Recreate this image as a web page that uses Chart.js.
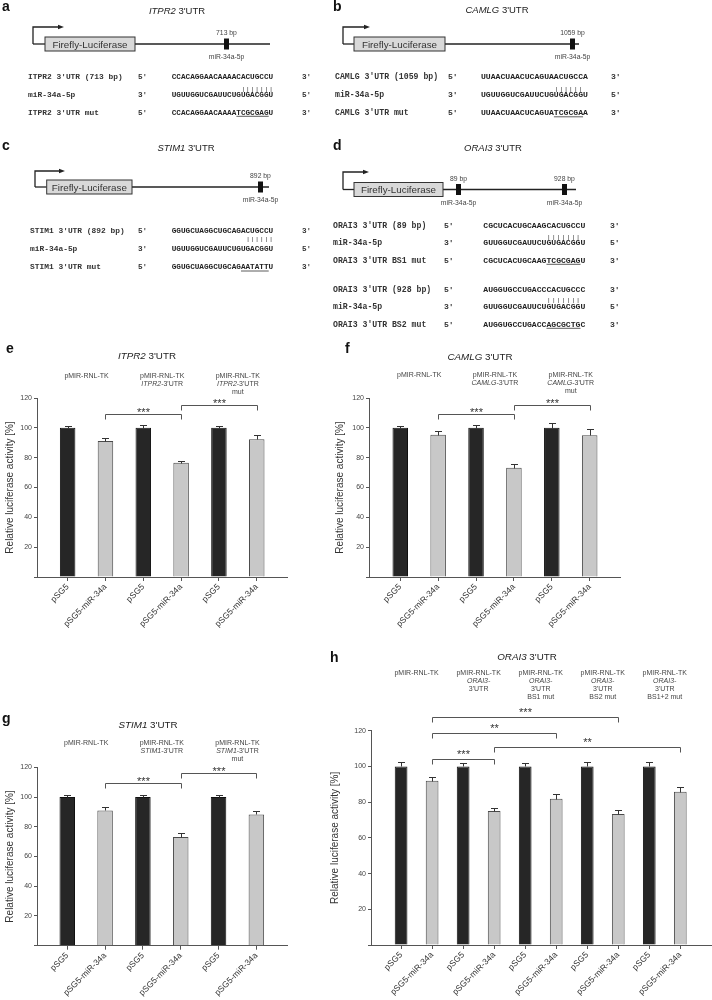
<!DOCTYPE html>
<html>
<head>
<meta charset="utf-8">
<script src="https://cdn.jsdelivr.net/npm/chart.js@4.4.1/dist/chart.umd.min.js"></script>
<style>
  body { margin: 0; background: #fff; }
  #page { position: relative; width: 712px; height: 1000px; overflow: hidden; background: #fff; }
  #sk { position: absolute; left: 0; top: 0; will-change: transform; }
  canvas { position: absolute; }
</style>
</head>
<body>
<div id="page">
  <svg id="sk" width="712" height="340"></svg>
  <canvas id="chE" width="350" height="290" style="left:0;top:340px"></canvas>
  <canvas id="chF" width="300" height="290" style="left:330px;top:340px"></canvas>
  <canvas id="chG" width="350" height="295" style="left:0;top:705px"></canvas>
  <canvas id="chH" width="387" height="360" style="left:325px;top:640px"></canvas>
</div>
<script>
// ---- data ----
const cats6 = ['pSG5', 'pSG5-miR-34a', 'pSG5', 'pSG5-miR-34a', 'pSG5', 'pSG5-miR-34a'];
const cats10 = ['pSG5', 'pSG5-miR-34a', 'pSG5', 'pSG5-miR-34a', 'pSG5', 'pSG5-miR-34a',
                'pSG5', 'pSG5-miR-34a', 'pSG5', 'pSG5-miR-34a'];
const yTicks = [0, 20, 40, 60, 80, 100, 120];

const itpr2Mean = [100, 91.1, 100, 76.6, 100, 92.4];
const itpr2Sem  = [1.1, 2.4, 2.2, 0.9, 0.9, 2.5];
const camlgMean = [100, 95.3, 100, 73.2, 100, 95.1];
const camlgSem  = [1.1, 2.9, 2.0, 2.5, 3.1, 4.2];
const stim1Mean = [100, 91.0, 100, 73.1, 100, 88.3];
const stim1Sem  = [1.1, 2.3, 1.3, 2.5, 1.1, 2.3];
const orai3Mean = [100, 92.0, 100, 75.0, 100, 81.9, 100, 73.3, 100, 85.8];
const orai3Sem  = [2.4, 1.8, 1.7, 1.7, 1.7, 2.4, 2.4, 2.1, 2.2, 2.4];

// group captions above each pair of bars (_x_ = italic)
const itpr2Groups = [['pMIR-RNL-TK'], ['pMIR-RNL-TK', "_ITPR2_-3'UTR"], ['pMIR-RNL-TK', "_ITPR2_-3'UTR", 'mut']];
const camlgGroups = [['pMIR-RNL-TK'], ['pMIR-RNL-TK', "_CAMLG_-3'UTR"], ['pMIR-RNL-TK', "_CAMLG_-3'UTR", 'mut']];
const stim1Groups = [['pMIR-RNL-TK'], ['pMIR-RNL-TK', "_STIM1_-3'UTR"], ['pMIR-RNL-TK', "_STIM1_-3'UTR", 'mut']];
const orai3Groups = [['pMIR-RNL-TK'],
  ['pMIR-RNL-TK', '_ORAI3-_', "3'UTR"],
  ['pMIR-RNL-TK', '_ORAI3-_', "3'UTR", 'BS1 mut'],
  ['pMIR-RNL-TK', '_ORAI3-_', "3'UTR", 'BS2 mut'],
  ['pMIR-RNL-TK', '_ORAI3-_', "3'UTR", 'BS1+2 mut']];

// significance brackets: [from bar, to bar, level, stars]
const itpr2Sig = [[1, 3, 109.0, '***'], [3, 5, 115.2, '***']];
const camlgSig = [[1, 3, 109.0, '***'], [3, 5, 115.4, '***']];
const stim1Sig = [[1, 3, 109.7, '***'], [3, 5, 116.4, '***']];
const orai3Sig = [[1, 7, 127.8, '***'], [1, 5, 118.7, '**'], [3, 9, 111.0, '**'], [1, 3, 104.0, '***']];

// sequences for the reporter schematics
const mir = 'UGUUGGUCGAUUCUGUGACGGU';
const itpr2Rows = [["ITPR2 3'UTR (713 bp)", "5'", 'CCACAGGAACAAAACACUGCCU', "3'"],
                   ['miR-34a-5p', "3'", mir, "5'"],
                   ["ITPR2 3'UTR mut", "5'", 'CCACAGGAACAAAATCGCGAGU', "3'"]];
const camlgRows = [["CAMLG 3'UTR (1059 bp)", "5'", 'UUAACUAACUCAGUAACUGCCA', "3'"],
                   ['miR-34a-5p', "3'", mir, "5'"],
                   ["CAMLG 3'UTR mut", "5'", 'UUAACUAACUCAGUATCGCGAA', "3'"]];
const stim1Rows = [["STIM1 3'UTR (892 bp)", "5'", 'GGUGCUAGGCUGCAGACUGCCU', "3'"],
                   ['miR-34a-5p', "3'", mir, "5'"],
                   ["STIM1 3'UTR mut", "5'", 'GGUGCUAGGCUGCAGAATATTU', "3'"]];
const orai3Rows1 = [["ORAI3 3'UTR (89 bp)", "5'", 'CGCUCACUGCAAGCACUGCCU', "3'"],
                    ['miR-34a-5p', "3'", 'GUUGGUCGAUUCUGUGACGGU', "5'"],
                    ["ORAI3 3'UTR BS1 mut", "5'", 'CGCUCACUGCAAGTCGCGAGU', "3'"]];
const orai3Rows2 = [["ORAI3 3'UTR (928 bp)", "5'", 'AUGGUGCCUGACCCACUGCCC', "3'"],
                    ['miR-34a-5p', "3'", 'GUUGGUCGAUUCUGUGACGGU', "5'"],
                    ["ORAI3 3'UTR BS2 mut", "5'", 'AUGGUGCCUGACCAGCGCTGC', "3'"]];
// [first paired base, count] and [first mutated base, count]
const itpr2Pair = [15, 7], itpr2Mut = [14, 7];
const camlgPair = [15, 6], camlgMut = [15, 6];
const stim1Pair = [16, 6], stim1Mut = [15, 6];
const orai3Pair1 = [13, 7], orai3Mut1 = [13, 7];
const orai3Pair2 = [13, 7], orai3Mut2 = [13, 7];

const FAM = '"Liberation Sans", Arial, sans-serif';
const MONO = '"Liberation Mono", "Courier New", monospace';
Chart.defaults.font.family = FAM;

// ---- schematics (a-d) ----
let svg = '';
function txt(x, y, s, size, opts = {}) {
  const parts = s.split('_');
  const inner = parts.map((p, i) => i % 2 ? `<tspan font-style="italic">${p}</tspan>` : p).join('');
  svg += `<text x="${x}" y="${y}" font-size="${size}" font-family='${opts.fam || FAM}' ` +
    `font-weight="${opts.bold ? 'bold' : 'normal'}" text-anchor="${opts.anchor || 'start'}" fill="${opts.color || '#222'}"` +
    (opts.ls ? ` letter-spacing="${opts.ls}"` : '') + `>${inner}</text>`;
}

function construct(o) {
  const k = 'stroke="#222" stroke-width="1.3" fill="none"';
  svg += `<path d="M${o.vx},${o.line} V${o.arrowY} H${o.arrowX - 5}" ${k}/>`;
  svg += `<polygon points="${o.arrowX - 6},${o.arrowY - 2.3} ${o.arrowX},${o.arrowY} ${o.arrowX - 6},${o.arrowY + 2.3}" fill="#222"/>`;
  svg += `<line x1="${o.vx}" y1="${o.line}" x2="${o.boxL}" y2="${o.line}" ${k}/>`;
  svg += `<line x1="${o.boxR}" y1="${o.line}" x2="${o.lineEnd}" y2="${o.line}" ${k}/>`;
  svg += `<rect x="${o.boxL}" y="${o.line - 7}" width="${o.boxR - o.boxL}" height="14" fill="#d9d9d9" stroke="#333" stroke-width="1"/>`;
  txt((o.boxL + o.boxR) / 2, o.line + 3.5, 'Firefly-Luciferase', 9.8, { anchor: 'middle', color: '#333' });
  o.marks.forEach(m => {
    svg += `<rect x="${m.x - 2.5}" y="${o.line - 5.5}" width="5" height="11" fill="#111"/>`;
    txt(m.x, o.line - 9, m.bp, 6.8, { anchor: 'middle', color: '#444' });
    txt(m.x, o.line + 15, 'miR-34a-5p', 6.8, { anchor: 'middle', color: '#444' });
  });
}

function seqBlock(rows, pair, mut, c) {
  const cw = c.fs * 0.6;
  rows.forEach((r, i) => {
    const y = c.ys[i];
    txt(c.labX, y, r[0], c.lfs, { fam: MONO, bold: true, color: '#333' });
    txt(c.c5X, y, r[1], c.fs, { fam: MONO, bold: true, color: '#333' });
    txt(c.seqX, y, r[2], c.fs, { fam: MONO, bold: true, color: '#222' });
    txt(c.c3X, y, r[3], c.fs, { fam: MONO, bold: true, color: '#333' });
  });
  // base pairing ticks
  const pfs = 6, pcw = pfs * 0.6;
  txt(c.seqX + (pair[0] + 0.5) * cw - pcw / 2, c.pipeY, '|'.repeat(pair[1]), pfs,
      { fam: MONO, color: '#222', ls: (cw - pcw).toFixed(2) });
  // underline the mutated bases
  const uy = c.ys[2] + 1.8;
  svg += `<line x1="${c.seqX + mut[0] * cw}" y1="${uy}" x2="${c.seqX + (mut[0] + mut[1]) * cw}" y2="${uy}" stroke="#333" stroke-width="0.8"/>`;
}

txt(2, 11, 'a', 14, { bold: true, color: '#111' });
txt(177, 13.5, "_ITPR2_ 3'UTR", 9.5, { anchor: 'middle' });
construct({ vx: 33, arrowY: 27, arrowX: 64, line: 44, boxL: 45, boxR: 135, lineEnd: 270, marks: [{ x: 226.5, bp: '713 bp' }] });
seqBlock(itpr2Rows, itpr2Pair, itpr2Mut, { labX: 28, c5X: 138, seqX: 171.7, c3X: 302, fs: 7.7, lfs: 7.9, ys: [78.5, 96.5, 114.5], pipeY: 90.6 });

txt(333, 11, 'b', 14, { bold: true, color: '#111' });
txt(497, 12.5, "_CAMLG_ 3'UTR", 9.5, { anchor: 'middle' });
construct({ vx: 343, arrowY: 27, arrowX: 370, line: 44, boxL: 354, boxR: 445, lineEnd: 579, marks: [{ x: 572.5, bp: '1059 bp' }] });
seqBlock(camlgRows, camlgPair, camlgMut, { labX: 335, c5X: 448, seqX: 481, c3X: 611, fs: 8.1, lfs: 8.2, ys: [79, 96.5, 115], pipeY: 91 });

txt(2, 150, 'c', 14, { bold: true, color: '#111' });
txt(186, 150.5, "_STIM1_ 3'UTR", 9.5, { anchor: 'middle' });
construct({ vx: 35, arrowY: 171, arrowX: 65, line: 187, boxL: 46.7, boxR: 132, lineEnd: 269, marks: [{ x: 260.5, bp: '892 bp' }] });
seqBlock(stim1Rows, stim1Pair, stim1Mut, { labX: 30, c5X: 138, seqX: 171.7, c3X: 302, fs: 7.7, lfs: 7.9, ys: [232.5, 250.8, 269.2], pipeY: 241 });

txt(333, 150, 'd', 14, { bold: true, color: '#111' });
txt(493, 150.5, "_ORAI3_ 3'UTR", 9.5, { anchor: 'middle' });
construct({ vx: 343, arrowY: 172, arrowX: 369, line: 189.5, boxL: 354, boxR: 443, lineEnd: 576,
            marks: [{ x: 458.5, bp: '89 bp' }, { x: 564.5, bp: '928 bp' }] });
seqBlock(orai3Rows1, orai3Pair1, orai3Mut1, { labX: 333, c5X: 444, seqX: 483.3, c3X: 610, fs: 8.1, lfs: 8.2, ys: [227.5, 244.5, 262.5], pipeY: 238.6 });
seqBlock(orai3Rows2, orai3Pair2, orai3Mut2, { labX: 333, c5X: 444, seqX: 483.3, c3X: 610, fs: 8.1, lfs: 8.2, ys: [291.5, 308.5, 326.5], pipeY: 301.6 });

document.getElementById('sk').innerHTML = svg;

// ---- bar charts (e-h) ----
function rich(ctx, str, cx, y, size, color) {
  const parts = str.split('_');
  const fonts = parts.map((p, i) => `${i % 2 ? 'italic ' : ''}${size}px ${FAM}`);
  let w = 0;
  parts.forEach((p, i) => { ctx.font = fonts[i]; w += ctx.measureText(p).width; });
  let x = cx - w / 2;
  ctx.textAlign = 'left';
  ctx.fillStyle = color;
  parts.forEach((p, i) => { ctx.font = fonts[i]; ctx.fillText(p, x, y); x += ctx.measureText(p).width; });
}

function barPanel(id, cats, means, sems, groups, sig, lay) {
  const extras = {
    id: 'extras',
    afterDatasetsDraw(chart) {
      const { ctx, scales: { x, y } } = chart;
      ctx.save();
      // error bars (upper half only)
      ctx.strokeStyle = '#333';
      ctx.lineWidth = 1;
      means.forEach((m, i) => {
        const px = Math.round(x.getPixelForValue(i)) + 0.5;
        const top = Math.round(y.getPixelForValue(m)) + 0.5;
        const cap = Math.round(y.getPixelForValue(m + sems[i])) + 0.5;
        ctx.beginPath();
        ctx.moveTo(px, top); ctx.lineTo(px, cap);
        ctx.moveTo(px - 3.5, cap); ctx.lineTo(px + 3.5, cap);
        ctx.stroke();
      });
      // significance brackets
      ctx.strokeStyle = '#555';
      sig.forEach(([a, b, lv, stars]) => {
        const xa = Math.round(x.getPixelForValue(a)) + 0.5;
        const xb = Math.round(x.getPixelForValue(b)) + 0.5;
        const yl = Math.round(y.getPixelForValue(lv)) + 0.5;
        ctx.beginPath();
        ctx.moveTo(xa, yl + 5); ctx.lineTo(xa, yl); ctx.lineTo(xb, yl); ctx.lineTo(xb, yl + 5);
        ctx.stroke();
        ctx.font = `11px ${FAM}`;
        ctx.fillStyle = '#333';
        ctx.textAlign = 'center';
        ctx.fillText(stars, (xa + xb) / 2, yl + lay.starGap);
      });
      // captions over each pair
      groups.forEach((lines, g) => {
        const cx = (x.getPixelForValue(2 * g) + x.getPixelForValue(2 * g + 1)) / 2;
        lines.forEach((l, j) => rich(ctx, l, cx, lay.gy + j * 8, 7, '#444'));
      });
      rich(ctx, lay.title, lay.tx, lay.ty, 9.8, '#222');
      ctx.font = `bold 14px ${FAM}`;
      ctx.fillStyle = '#111';
      ctx.textAlign = 'left';
      ctx.fillText(lay.letter, lay.lx, lay.ly);
      ctx.restore();
    }
  };

  return new Chart(document.getElementById(id), {
    type: 'bar',
    data: {
      datasets: [{
        data: means.map((v, i) => ({ x: i, y: v })),
        backgroundColor: cats.map((c, i) => i % 2 ? '#c8c8c8' : '#262626'),
        borderColor: cats.map((c, i) => i % 2 ? '#4a4a4a' : '#111'),
        borderWidth: 1,
        categoryPercentage: 1,
        barPercentage: 0.41
      }]
    },
    options: {
      responsive: false,
      animation: false,
      layout: { padding: { top: lay.top, right: lay.right, left: 0, bottom: 0 } },
      plugins: { legend: { display: false }, tooltip: { enabled: false } },
      scales: {
        x: {
          type: 'linear',
          min: lay.xmin,
          max: lay.xmax,
          offset: false,
          afterBuildTicks: s => { s.ticks = cats.map((c, i) => ({ value: i })); },
          afterFit: s => { s.height = lay.xh; },
          grid: { drawOnChartArea: false, drawTicks: true, tickLength: 4, color: '#555', offset: false },
          border: { color: '#555', width: 1 },
          ticks: {
            callback: v => cats[v],
            minRotation: 45, maxRotation: 45, autoSkip: false,
            font: { size: 8.5 }, color: '#333', padding: 1
          }
        },
        y: {
          min: 0,
          max: 120,
          afterBuildTicks: s => { s.ticks = yTicks.map(v => ({ value: v })); },
          afterFit: s => { s.width = lay.yw; },
          grid: { drawOnChartArea: false, drawTicks: true, tickLength: 3, color: '#555' },
          border: { color: '#555', width: 1 },
          ticks: { callback: v => v === 0 ? '' : v, font: { size: 7 }, color: '#444', padding: 2 },
          title: {
            display: true, text: 'Relative luciferase activity [%]',
            font: { size: 10 }, color: '#333', padding: { top: 4, bottom: 0 }
          }
        }
      }
    },
    plugins: [extras]
  });
}

barPanel('chE', cats6, itpr2Mean, itpr2Sem, itpr2Groups, itpr2Sig,
  { letter: 'e', lx: 6, ly: 13, title: "_ITPR2_ 3'UTR", tx: 147, ty: 18.5, gy: 37.5, starGap: 1,
    top: 58, right: 63, yw: 37, xh: 53, xmin: -0.81, xmax: 5.8 });
barPanel('chF', cats6, camlgMean, camlgSem, camlgGroups, camlgSig,
  { letter: 'f', lx: 15, ly: 13, title: "_CAMLG_ 3'UTR", tx: 150, ty: 20, gy: 36.5, starGap: 1,
    top: 58, right: 10, yw: 39, xh: 53, xmin: -0.825, xmax: 5.8 });
barPanel('chG', cats6, stim1Mean, stim1Sem, stim1Groups, stim1Sig,
  { letter: 'g', lx: 2, ly: 18, title: "_STIM1_ 3'UTR", tx: 148, ty: 22.5, gy: 40.2, starGap: 1,
    top: 62.3, right: 63, yw: 37, xh: 54.3, xmin: -0.8, xmax: 5.81 });
barPanel('chH', cats10, orai3Mean, orai3Sem, orai3Groups, orai3Sig,
  { letter: 'h', lx: 5, ly: 22, title: "_ORAI3_ 3'UTR", tx: 202, ty: 19.5, gy: 35.2, starGap: -2,
    top: 90.7, right: 1, yw: 46, xh: 55, xmin: -0.97, xmax: 9.99 });
</script>
</body>
</html>
